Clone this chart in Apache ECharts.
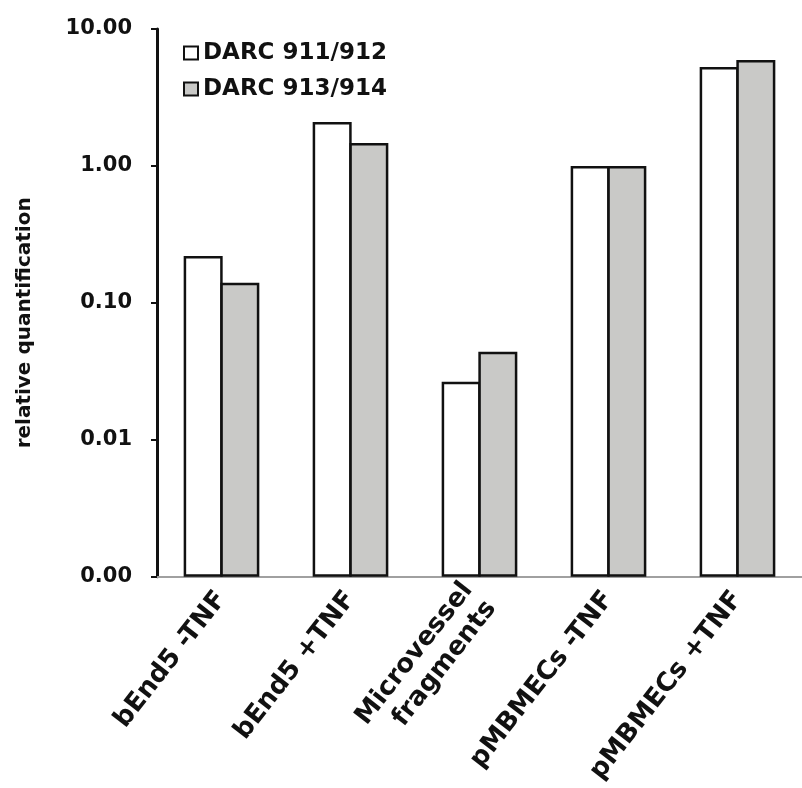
<!DOCTYPE html>
<html>
<head>
<meta charset="utf-8">
<script src="https://cdn.jsdelivr.net/npm/echarts@6/dist/echarts.min.js"></script>
<style>html,body{margin:0;padding:0;background:#fff}#c{width:802px;height:788px}</style>
</head>
<body>
<div id="c"></div>
<script>
var categories = ['bEnd5 -TNF', 'bEnd5 +TNF', 'Microvessel\nfragments', 'pMBMECs -TNF', 'pMBMECs +TNF'];
var seriesNames = ['DARC 911/912', 'DARC 913/914'];
var darc911 = [0.22, 2.09, 0.0265, 1.0, 5.28];
var darc913 = [0.14, 1.47, 0.044, 1.0, 5.94];
var yTicks = [0.001, 0.01, 0.1, 1, 10];

var FONT = 'DejaVu Sans';
var chart = echarts.init(document.getElementById('c'), null, {renderer: 'canvas'});
chart.setOption({
  animation: false,
  backgroundColor: '#fff',
  grid: {left: 157, top: 29, height: 548, width: 648, containLabel: false},
  legend: {
    orient: 'vertical', left: 178, top: 36, itemWidth: 14, itemHeight: 13, itemGap: 12,
    icon: 'rect',
    textStyle: {fontFamily: FONT, fontWeight: 'bold', fontSize: 23, color: '#111', lineHeight: 24},
    data: seriesNames
  },
  xAxis: {
    type: 'category', data: categories,
    axisLine: {lineStyle: {color: '#a0a0a0', width: 2}},
    axisTick: {show: false},
    axisLabel: {rotate: 52, margin: 18, interval: 0, fontFamily: FONT, fontWeight: 'bold', fontSize: 26, color: '#111', lineHeight: 30}
  },
  yAxis: {
    type: 'log', logBase: 10, min: yTicks[0], max: yTicks[yTicks.length - 1],
    startValue: yTicks[0],
    name: 'relative quantification', nameLocation: 'middle', nameGap: 122,
    nameTextStyle: {fontFamily: FONT, fontWeight: 'bold', fontSize: 20, color: '#111', padding: [0, 40, 0, 0]},
    axisLine: {show: true, lineStyle: {color: '#111', width: 3}},
    axisTick: {show: true, length: 6, lineStyle: {color: '#111', width: 2}},
    splitLine: {show: false},
    axisLabel: {margin: 25, fontFamily: FONT, fontWeight: 'bold', fontSize: 21, color: '#111',
      formatter: function (v) { return Number(v).toFixed(2); }}
  },
  series: [
    {name: seriesNames[0], type: 'bar', data: darc911, barWidth: 39, barGap: '-6%',
      itemStyle: {color: '#ffffff', borderColor: '#111', borderWidth: 2.5}},
    {name: seriesNames[1], type: 'bar', data: darc913, barWidth: 39, barGap: '-6%',
      itemStyle: {color: '#c9c9c7', borderColor: '#111', borderWidth: 2.5}}
  ]
});
</script>
</body>
</html>
